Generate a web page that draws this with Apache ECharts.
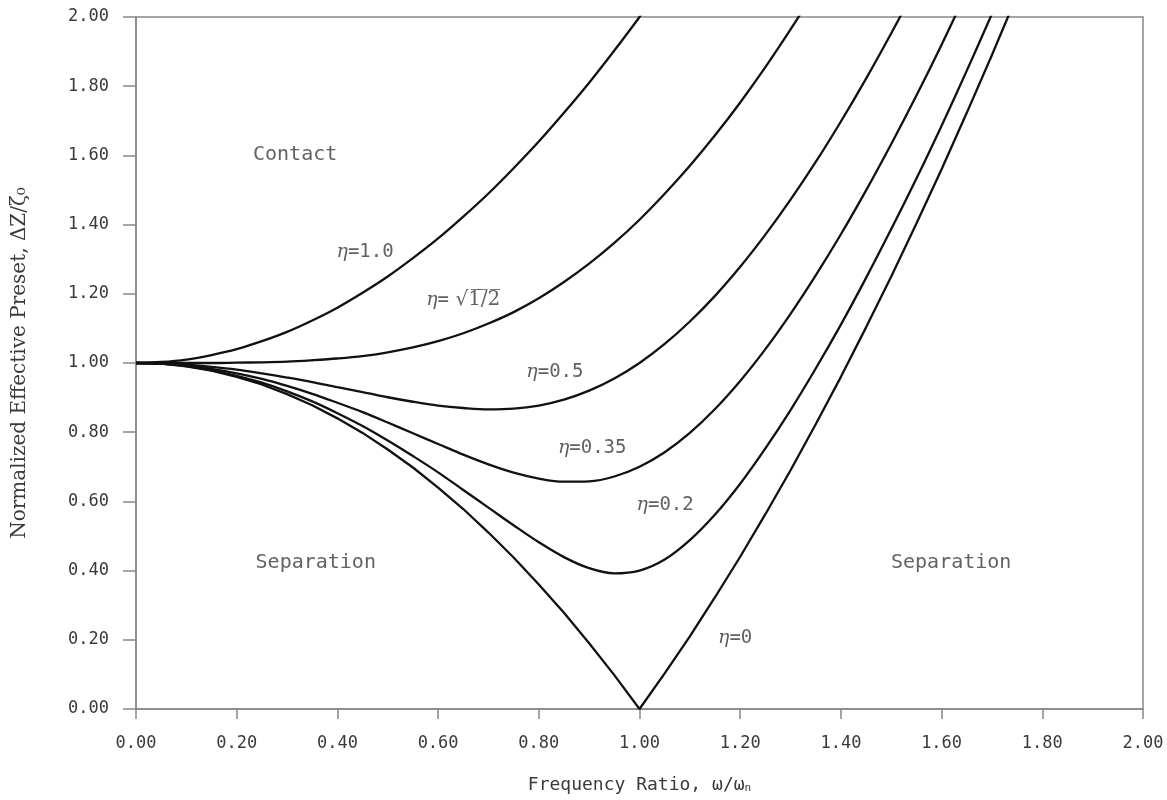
<!DOCTYPE html>
<html>
<head>
<meta charset="utf-8">
<script src="https://cdn.jsdelivr.net/npm/echarts@6/dist/echarts.min.js"></script>
<style>
html,body{margin:0;padding:0;background:#fff;}
#chart{width:1167px;height:800px;}
</style>
</head>
<body>
<div id="chart"></div>
<script>
// Frequency ratio samples (x)
const ratio = [0.00,0.05,0.10,0.15,0.20,0.25,0.30,0.35,0.40,0.45,0.50,0.55,0.60,0.65,0.70,0.75,0.80,0.85,0.90,0.95,1.00,1.05,1.10,1.15,1.20,1.25,1.30,1.35,1.40,1.45,1.50,1.55,1.60,1.65,1.70,1.75];
// Normalized effective preset for each eta
const eta0   = [1.000,0.998,0.990,0.978,0.960,0.938,0.910,0.878,0.840,0.798,0.750,0.698,0.640,0.578,0.510,0.438,0.360,0.278,0.190,0.098,0.000,0.103,0.210,0.323,0.440,0.563,0.690,0.823,0.960,1.103,1.250,1.403,1.560,1.723,1.890,2.063];
const eta02  = [1.000,0.998,0.991,0.979,0.963,0.943,0.918,0.889,0.855,0.818,0.776,0.731,0.684,0.633,0.582,0.531,0.482,0.439,0.407,0.392,0.400,0.432,0.488,0.562,0.651,0.753,0.864,0.984,1.111,1.246,1.387,1.533,1.686,1.845,2.009];
const eta035 = [1.000,0.998,0.993,0.983,0.970,0.954,0.934,0.911,0.885,0.858,0.828,0.797,0.766,0.735,0.707,0.683,0.666,0.657,0.658,0.672,0.700,0.742,0.798,0.867,0.948,1.040,1.142,1.253,1.372,1.499,1.633,1.773,1.920,2.074];
const eta05  = [1.000,0.999,0.995,0.989,0.981,0.970,0.958,0.945,0.930,0.916,0.901,0.888,0.877,0.870,0.866,0.868,0.877,0.894,0.920,0.955,1.000,1.055,1.120,1.194,1.278,1.371,1.472,1.581,1.698,1.822,1.953,2.090];
const eta07  = [1.000,1.000,1.000,1.000,1.001,1.002,1.004,1.008,1.013,1.020,1.031,1.045,1.063,1.086,1.114,1.147,1.187,1.234,1.287,1.347,1.414,1.489,1.570,1.658,1.753,1.855,1.964,2.079];
const eta1   = [1.000,1.003,1.010,1.023,1.040,1.063,1.090,1.123,1.160,1.203,1.250,1.303,1.360,1.423,1.490,1.563,1.640,1.723,1.810,1.903,2.000,2.103];
// Text annotations: [label, x, y] in data units
const annotations = [
  ['{e|η}{m|=1.0}', 0.455, 1.321],
  ['{e|η}{m|=}{r| √1̅/̅2̅}', 0.650, 1.182],
  ['{e|η}{m|=0.5}', 0.832, 0.974],
  ['{e|η}{m|=0.35}', 0.906, 0.754],
  ['{e|η}{m|=0.2}', 1.051, 0.590],
  ['{e|η}{m|=0}', 1.190, 0.205],
  ['{t|Contact}', 0.316, 1.601],
  ['{t|Separation}', 0.357, 0.422],
  ['{t|Separation}', 1.619, 0.422]
];
const xTicks = {min: 0, max: 2, interval: 0.2};
const yTicks = {min: 0, max: 2, interval: 0.2};

const curves = [eta1, eta07, eta05, eta035, eta02, eta0];
const chart = echarts.init(document.getElementById('chart'));
const mono = 'DejaVu Sans Mono';
const axisCommon = {
  type: 'value',
  splitLine: {show: false},
  axisLine: {show: true, onZero: false, lineStyle: {color: '#888', width: 1.5}},
  axisTick: {show: true, inside: false, lineStyle: {color: '#888', width: 1.5}},
  axisLabel: {fontFamily: mono, fontSize: 17, color: '#3a3a3a', formatter: v => v.toFixed(2)}
};
const option = {
  backgroundColor: '#fff',
  animation: false,
  grid: {left: 136, right: 24, top: 17, bottom: 91, show: true, borderColor: '#888', borderWidth: 1.5, backgroundColor: '#fff'},
  xAxis: Object.assign({}, axisCommon, {
    min: xTicks.min, max: xTicks.max, interval: xTicks.interval,
    axisTick: {show: true, inside: false, length: 10, lineStyle: {color: '#888', width: 1.5}},
    axisLabel: Object.assign({}, axisCommon.axisLabel, {margin: 26}),
    name: '{a|Frequency Ratio, ω/ω}{s|n}',
    nameLocation: 'middle', nameGap: 67,
    nameTextStyle: {rich: {
      a: {fontFamily: mono, fontSize: 18, color: '#3a3a3a'},
      s: {fontFamily: mono, fontSize: 11, color: '#3a3a3a', verticalAlign: 'bottom', lineHeight: 14}
    }}
  }),
  yAxis: Object.assign({}, axisCommon, {
    min: yTicks.min, max: yTicks.max, interval: yTicks.interval,
    axisTick: {show: true, inside: false, length: 13, lineStyle: {color: '#888', width: 1.5}},
    axisLabel: Object.assign({}, axisCommon.axisLabel, {margin: 27}),
    name: 'Normalized Effective Preset, ΔZ/ζ₀',
    nameLocation: 'middle', nameGap: 106,
    nameTextStyle: {fontFamily: 'DejaVu Serif', fontSize: 20, color: '#3a3a3a'}
  }),
  series: curves.map((vals, k) => ({
    type: 'line',
    data: vals.map((v, i) => [ratio[i], v]),
    showSymbol: false,
    symbol: 'none',
    smooth: k === 5 ? false : 0.35,
    clip: true,
    lineStyle: {color: '#111', width: 2.3},
    z: 3
  })).concat([{
    type: 'scatter',
    symbolSize: 1,
    itemStyle: {color: 'rgba(0,0,0,0)'},
    silent: true,
    z: 5,
    data: annotations.map(a => ({value: [a[1], a[2]], name: a[0]})),
    label: {
      show: true, position: 'inside',
      formatter: p => p.name,
      rich: {
        e: {fontFamily: 'DejaVu Serif', fontStyle: 'italic', fontSize: 19, color: '#333'},
        m: {fontFamily: mono, fontSize: 19, color: '#3a3a3a'},
        r: {fontFamily: 'DejaVu Serif', fontSize: 20, color: '#3a3a3a'},
        t: {fontFamily: mono, fontSize: 20, color: '#3a3a3a'}
      }
    }
  }])
};
chart.setOption(option);
</script>
</body>
</html>
